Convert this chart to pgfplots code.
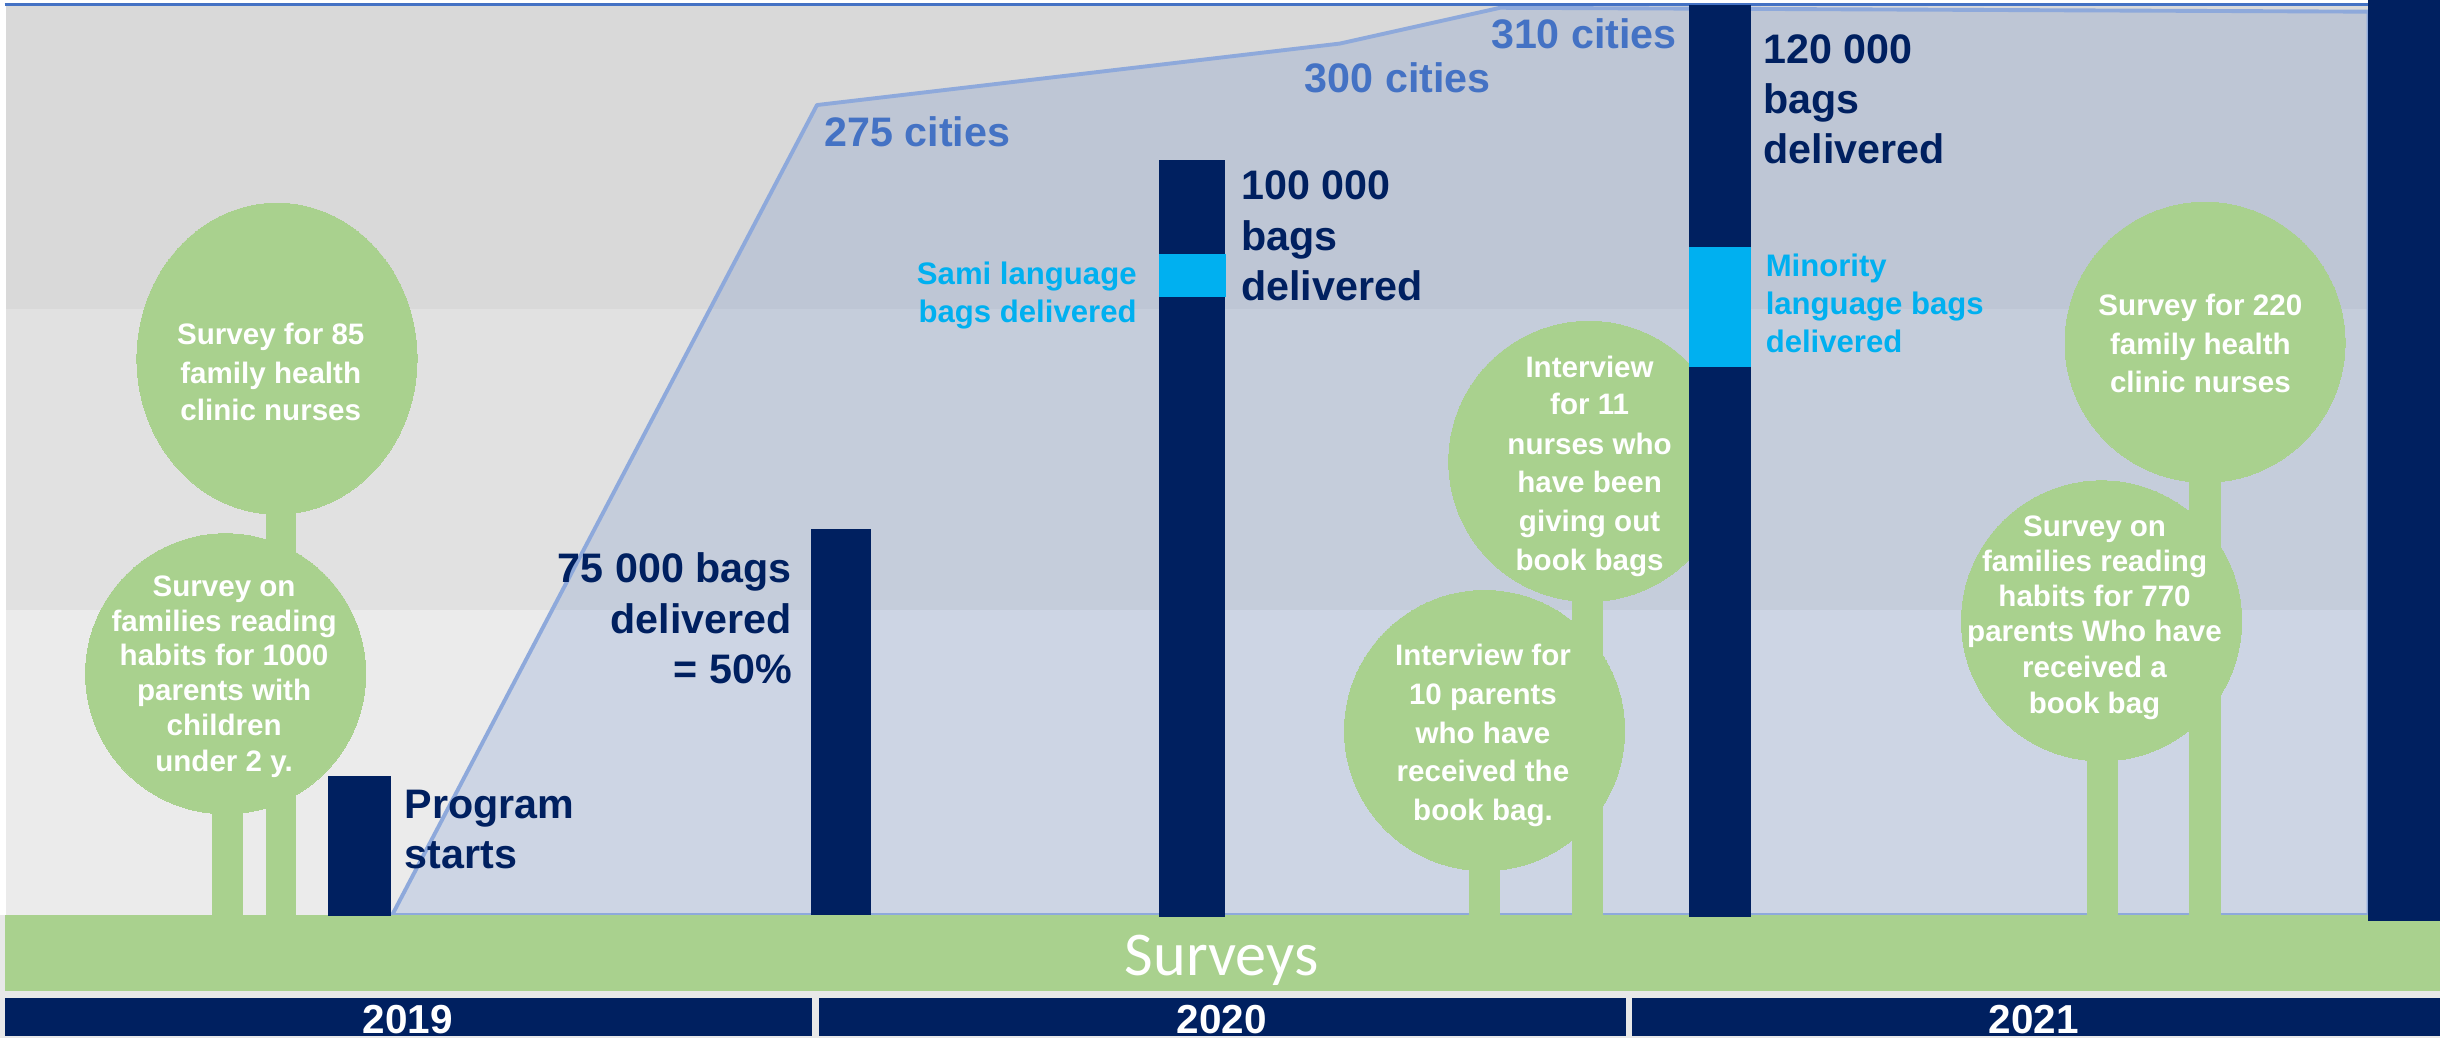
\documentclass[border=0pt]{standalone}
\usepackage{fontspec}
\setmainfont{Liberation Sans}
\newfontfamily\carlito{Carlito}
\usepackage{pgfplots}
\pgfplotsset{compat=1.18}
\definecolor{navy}{HTML}{002060}
\definecolor{cyanb}{HTML}{00B0F0}
\definecolor{leaf}{HTML}{A9D18E}
\definecolor{cityblue}{HTML}{4472C4}
\definecolor{edgeblue}{HTML}{8EA9DB}
\definecolor{bandA}{HTML}{D9D9D9}
\definecolor{bandB}{HTML}{E1E1E1}
\definecolor{bandC}{HTML}{EBEBEB}
\definecolor{strip}{HTML}{E8E8E8}
\newcommand{\fs}[1]{\fontsize{#1bp}{#1bp}\selectfont}
\tikzset{
  big/.style={font=\fs{26.5}\bfseries, text=navy, inner sep=0pt},
  city/.style={font=\fs{26.5}\bfseries, text=cityblue, inner sep=0pt},
  small/.style={font=\fs{20}\bfseries, text=cyanb, inner sep=0pt},
  leaft/.style={font=\fs{19}\bfseries, text=white, inner sep=0pt, anchor=base},
}
\begin{document}
\begin{tikzpicture}
\begin{axis}[
  scale only axis, width=1568bp, height=667bp,
  xmin=0, xmax=1568, ymin=0, ymax=667, y dir=reverse,
  hide axis, clip=false, clip marker paths=true,
]
% canvas
\addplot[fill=white, draw=none] coordinates {(0,0) (1568,0) (1568,667) (0,667)} -- cycle;
\addplot[fill=strip, draw=none] coordinates {(0,588) (1568,588) (1568,667) (0,667)} -- cycle;
% background bands
\addplot[fill=bandA, draw=none] coordinates {(4,4) (1568,4) (1568,198.8) (4,198.8)} -- cycle;
\addplot[fill=bandB, draw=none] coordinates {(4,198.8) (1568,198.8) (1568,391.7) (4,391.7)} -- cycle;
\addplot[fill=bandC, draw=none] coordinates {(4,391.7) (1568,391.7) (1568,588) (4,588)} -- cycle;
% cities area
\addplot[fill=cityblue, fill opacity=0.175, draw=edgeblue, line width=2.5bp, line join=round]
  coordinates {(252,588) (525,67.5) (861,28) (964,5) (1522,7.5) (1522,588)} -- cycle;
% top line
\addplot[cityblue, line width=2bp] coordinates {(3,2.7) (1522,2.7)};
% trunks
\addplot[fill=leaf, draw=none] coordinates {(171,300) (190,300) (190,590) (171,590)} -- cycle;
\addplot[fill=leaf, draw=none] coordinates {(136,480) (156,480) (156,590) (136,590)} -- cycle;
\addplot[fill=leaf, draw=none] coordinates {(944,520) (964,520) (964,590) (944,590)} -- cycle;
\addplot[fill=leaf, draw=none] coordinates {(1010,350) (1030,350) (1030,590) (1010,590)} -- cycle;
\addplot[fill=leaf, draw=none] coordinates {(1407,280) (1427,280) (1427,590) (1407,590)} -- cycle;
\addplot[fill=leaf, draw=none] coordinates {(1341,450) (1361,450) (1361,590) (1341,590)} -- cycle;
% crowns
\addplot[only marks, color=leaf, mark=*, mark size=90bp, mark options={fill=leaf, draw=leaf, line width=0pt, yscale=1.11}] coordinates {(178,230.5)};
\addplot[only marks, color=leaf, mark=*, mark size=90bp, mark options={fill=leaf, draw=leaf, line width=0pt}]
  coordinates {(145,433) (954,469.5) (1021,296.5) (1417,220) (1350.5,399)};
% ground
\addplot[fill=leaf, draw=none] coordinates {(3,588) (1568,588) (1568,636.7) (3,636.7)} -- cycle;
% bars
\addplot[fill=navy, draw=none] coordinates {(210.5,588.7) (251,588.7) (251,498.7) (210.5,498.7)} -- cycle;
\addplot[fill=navy, draw=none] coordinates {(521,587.8) (560,587.8) (560,340) (521,340)} -- cycle;
\addplot[fill=navy, draw=none] coordinates {(744.5,589) (787,589) (787,102.8) (744.5,102.8)} -- cycle;
\addplot[fill=cyanb, draw=none] coordinates {(744.5,191) (788,191) (788,163) (744.5,163)} -- cycle;
\addplot[fill=navy, draw=none] coordinates {(1085.5,589) (1125,589) (1125,3.2) (1085.5,3.2)} -- cycle;
\addplot[fill=cyanb, draw=none] coordinates {(1085.5,236) (1125,236) (1125,158.5) (1085.5,158.5)} -- cycle;
\addplot[fill=navy, draw=none] coordinates {(1522,591.7) (1568,591.7) (1568,0) (1522,0)} -- cycle;
% year band
\addplot[fill=navy, draw=none] coordinates {(3,641) (522,641) (522,666) (3,666)} -- cycle;
\addplot[fill=navy, draw=none] coordinates {(526,641) (1045,641) (1045,666) (526,666)} -- cycle;
\addplot[fill=navy, draw=none] coordinates {(1049,641) (1568,641) (1568,666) (1049,666)} -- cycle;
% texts
\node[city, anchor=base west] at (axis cs:529.7,94.3) {275 cities};
\node[city, anchor=base west] at (axis cs:838.4,59.6) {300 cities};
\node[city, anchor=base west] at (axis cs:958,31) {310 cities};
\node[big, anchor=base west] at (axis cs:260,525.8) {Program};
\node[big, anchor=base west] at (axis cs:260,558) {starts};
\node[big, anchor=base east] at (axis cs:509,374) {75 000 bags};
\node[big, anchor=base east] at (axis cs:509,407) {delivered};
\node[big, anchor=base east] at (axis cs:509,439.5) {= 50\%};
\node[big, anchor=base west] at (axis cs:797.5,128.5) {100 000};
\node[big, anchor=base west] at (axis cs:797.5,160.7) {bags};
\node[big, anchor=base west] at (axis cs:797.5,192.8) {delivered};
\node[big, anchor=base west] at (axis cs:1133,40.7) {120 000};
\node[big, anchor=base west] at (axis cs:1133,72.8) {bags};
\node[big, anchor=base west] at (axis cs:1133,105) {delivered};
\node[small, anchor=base east] at (axis cs:730.6,183) {Sami language};
\node[small, anchor=base east] at (axis cs:730.6,207.4) {bags delivered};
\node[small, anchor=base west] at (axis cs:1134.5,178) {Minority};
\node[small, anchor=base west] at (axis cs:1134.5,201.8) {language bags};
\node[small, anchor=base west] at (axis cs:1134.5,226.7) {delivered};
% leaf texts
\node[leaft] at (axis cs:174,221.5) {Survey for 85};
\node[leaft] at (axis cs:174,246.5) {family health};
\node[leaft] at (axis cs:174,270.5) {clinic nurses};
\node[leaft] at (axis cs:144,383) {Survey on};
\node[leaft] at (axis cs:144,405.5) {families reading};
\node[leaft] at (axis cs:144,427.5) {habits for 1000};
\node[leaft] at (axis cs:144,450) {parents with};
\node[leaft] at (axis cs:144,472.5) {children};
\node[leaft] at (axis cs:144,496) {under 2 y.};
\node[leaft] at (axis cs:953,427.5) {Interview for};
\node[leaft] at (axis cs:953,452.5) {10 parents};
\node[leaft] at (axis cs:953,477.5) {who have};
\node[leaft] at (axis cs:953,502.5) {received the};
\node[leaft] at (axis cs:953,527) {book bag.};
\node[leaft] at (axis cs:1021.5,242.5) {Interview};
\node[leaft] at (axis cs:1021.5,266.5) {for 11};
\node[leaft] at (axis cs:1021.5,292) {nurses who};
\node[leaft] at (axis cs:1021.5,316.5) {have been};
\node[leaft] at (axis cs:1021.5,341.5) {giving out};
\node[leaft] at (axis cs:1021.5,366.5) {book bags};
\node[leaft] at (axis cs:1414,202.5) {Survey for 220};
\node[leaft] at (axis cs:1414,227.5) {family health};
\node[leaft] at (axis cs:1414,252.5) {clinic nurses};
\node[leaft] at (axis cs:1346,344.5) {Survey on};
\node[leaft] at (axis cs:1346,367.5) {families reading};
\node[leaft] at (axis cs:1346,389.5) {habits for 770};
\node[leaft] at (axis cs:1346,412.5) {parents Who have};
\node[leaft] at (axis cs:1346,435.5) {received a};
\node[leaft] at (axis cs:1346,458.5) {book bag};
% ground and years
\node[font=\carlito\fs{40}, text=white, inner sep=0pt, anchor=base] at (axis cs:785,626.6) {Surveys};
\node[font=\fs{26}\bfseries, text=white, inner sep=0pt, anchor=base] at (axis cs:262,664) {2019};
\node[font=\fs{26}\bfseries, text=white, inner sep=0pt, anchor=base] at (axis cs:785,664) {2020};
\node[font=\fs{26}\bfseries, text=white, inner sep=0pt, anchor=base] at (axis cs:1307,664) {2021};
\end{axis}
\end{tikzpicture}
\end{document}
